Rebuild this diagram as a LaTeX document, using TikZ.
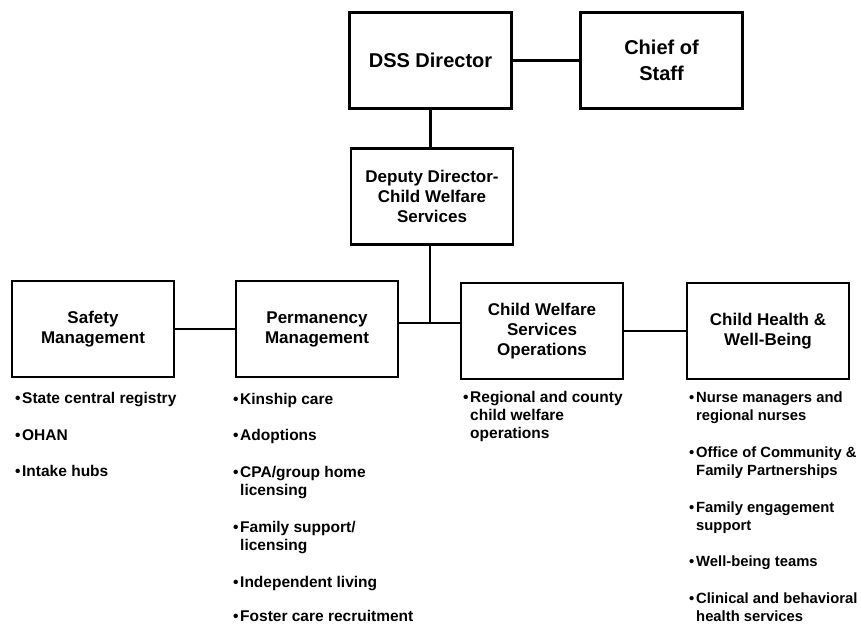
\documentclass[tikz,border=0pt]{standalone}
\usepackage{fontspec}
\setmainfont{Liberation Sans}
\begin{document}
\begin{tikzpicture}[x=1pt,y=-1pt,
  box/.style={draw, line width=2.6pt, minimum width=162pt, minimum height=96pt, inner sep=2pt, align=center},
  bigtitle/.style={box, font=\bfseries\fontsize{20}{26}\selectfont},
  title/.style={box, font=\bfseries\fontsize{17}{20}\selectfont},
  items/.style={anchor=base west, inner sep=0pt, align=left, font=\bfseries\fontsize{15.5}{18}\selectfont},
  itemsr/.style={items, font=\bfseries\fontsize{14.8}{18}\selectfont},
  link/.style={line width=2.4pt}]
\useasboundingbox (0,0) rectangle (861,624);
\newcommand{\bul}{\makebox[7pt][l]{•}}
\newcommand{\ind}{\hspace*{7pt}}
\node[bigtitle] (dss) at (430.5,60.5) {DSS Director};
\node[bigtitle] (cos) at (661.5,60.5) {Chief of\\Staff};
\node[title] (dep) at (432,196.5) {Deputy Director-\\Child Welfare\\Services};
\node[title] (saf) at (93,329) {Safety\\Management};
\node[title] (per) at (317,329) {Permanency\\Management};
\node[title] (cws) at (542,331) {Child Welfare\\Services\\Operations};
\node[title] (chw) at (768,331) {Child Health \&\\Well-Being};
\coordinate (j) at (430,323);
\draw[link] (dss) -- (cos);
\draw[link] (dss) -- (dss |- dep.north);
\draw[link] (dep.south -| j) -- (j);
\draw[link] (saf) -- (per);
\draw[link] (per.east |- j) -- (cws.west |- j);
\draw[link] (cws) -- (chw);
% Safety
\node[items] (s1) at (15,403) {\bul State central registry};
\node[items] (s2) at (15,440) {\bul OHAN};
\node[items] (s3) at (15,476) {\bul Intake hubs};
% Permanency
\node[items] (p1) at (233,404) {\bul Kinship care};
\node[items] (p2) at (233,440) {\bul Adoptions};
\node[items] (p3) at (233,495) {\bul CPA/group home\\\ind licensing};
\node[items] (p4) at (233,550) {\bul Family support/\\\ind licensing};
\node[items] (p5) at (233,587) {\bul Independent living};
\node[items] (p6) at (233,621) {\bul Foster care recruitment};
% CWSO
\node[items] (c1) at (463,438) {\bul Regional and county\\\ind child welfare\\\ind operations};
% CHWB
\node[itemsr] (h1) at (689,420) {\bul Nurse managers and\\\ind regional nurses};
\node[itemsr] (h2) at (689,475) {\bul Office of Community \&\\\ind Family Partnerships};
\node[itemsr] (h3) at (689,530) {\bul Family engagement\\\ind support};
\node[itemsr] (h4) at (689,566) {\bul Well-being teams};
\node[itemsr] (h5) at (689,621) {\bul Clinical and behavioral\\\ind health  services};
\end{tikzpicture}
\end{document}
